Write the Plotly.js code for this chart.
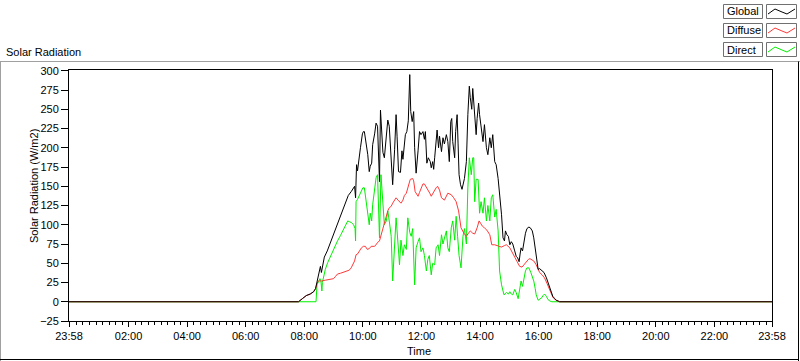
<!DOCTYPE html>
<html>
<head>
<meta charset="utf-8">
<script src="https://cdn.plot.ly/plotly-3.0.1.min.js"></script>
<style>
html,body{margin:0;padding:0;background:#fff;}
#chart{width:800px;height:361px;}
</style>
</head>
<body>
<div id="chart"></div>
<script>
// ---- Data (time in minutes after midnight, values in W/m2) ----
const seriesNames = ["Global", "Diffuse", "Direct"];
const seriesColors = ["#000000", "#ff3838", "#00f000"];

const globalTime = [-2,468,476,484,492,499,503,507,511,513,515,517,521,527,533,540,546,552,558,564,570,576,583,585,587,589,593,595,599,601,603,606,610,613,615,618,620,624,627,630,634,636,639,641,644,648,651,654,658,661,665,668,670,673,677,680,682,687,690,693,696,698,701,704,706,709,713,716,719,723,726,728,731,734,738,740,743,745,747,750,752,755,757,761,764,767,771,774,777,780,782,784,788,790,793,795,797,800,803,808,812,815,818,820,823,825,827,830,832,834,837,839,842,846,849,853,856,860,863,866,870,873,877,880,884,887,890,892,895,898,901,904,907,911,914,917,920,922,924,927,929,933,936,940,943,947,950,953,955,959,962,965,968,971,976,979,983,986,989,993,996,1000,1003,1438];
const globalValue = [0,0,4,8,10,13,17,28,40,46,38,45,58,66,76,88,100,110,120,128,138,143,150,135,178,170,195,200,218,221,221,210,191,169,176,180,204,218,232,228,156,249,218,194,187,214,236,228,185,152,198,243,215,169,168,196,185,217,221,235,295,247,234,247,200,167,196,221,217,221,211,221,180,187,182,174,182,172,187,213,223,200,215,195,213,205,217,208,182,234,238,208,187,221,243,205,165,152,146,160,182,243,280,265,250,277,262,238,217,238,258,243,230,208,230,200,191,213,200,217,182,178,160,141,113,83,79,92,87,85,74,78,75,66,59,57,52,62,70,66,75,89,95,97,96,92,83,70,57,42,43,41,39,38,31,25,20,13,7,4,2,1,0,0];

const diffuseTime = [-2,468,476,484,492,499,503,506,509,515,523,531,540,544,548,554,560,566,572,576,579,583,586,589,593,597,601,605,609,613,617,624,628,630,634,638,641,644,648,651,654,658,661,665,668,672,675,678,682,685,689,693,697,702,704,707,713,716,719,723,726,733,737,740,745,750,753,757,761,764,767,774,777,781,786,791,796,798,801,807,812,815,820,825,829,834,838,841,845,849,854,860,864,870,876,884,890,894,901,906,911,916,921,926,930,935,939,942,946,950,955,959,962,967,972,977,983,986,989,995,1003,1438];
const diffuseValue = [0,0,4,8,10,13,17,24,27,27,28,29,30,33,36,37,38,40,41,44,48,53,61,62,66,70,72,72,68,69,72,72,75,77,79,88,96,102,113,118,122,124,128,132,135,132,130,128,132,138,141,150,159,160,157,143,137,142,148,153,153,146,141,137,143,148,150,145,135,133,132,141,140,139,135,130,118,111,96,89,85,88,92,89,88,96,105,102,98,96,93,87,74,74,73,71,73,74,70,63,58,52,46,45,48,53,55,56,55,53,48,41,38,35,31,24,16,10,6,2,0,0];

const directTime = [-2,504,506,509,512,514,516,517,520,523,528,533,538,544,548,554,559,564,569,572,576,581,584,585,586,589,593,596,600,603,606,610,613,615,618,620,624,627,630,634,637,641,644,648,651,654,658,661,665,668,672,675,678,682,685,689,692,696,699,702,706,709,713,716,719,723,726,730,733,736,740,743,747,750,754,757,761,764,766,771,774,777,781,784,788,791,794,797,801,805,808,812,815,818,822,825,827,829,832,836,839,842,846,849,853,856,860,863,866,870,873,877,880,884,889,894,898,901,904,907,911,914,918,921,924,927,930,933,936,940,944,947,950,953,955,959,962,966,969,972,976,979,983,987,1438];
const directValue = [0,0,22,27,30,27,14,25,35,42,51,58,66,73,79,86,92,98,105,104,103,100,95,79,130,133,139,143,148,148,135,113,100,115,105,126,150,161,165,83,165,125,100,105,118,105,85,27,85,109,75,48,80,60,74,68,109,90,85,95,22,70,78,83,65,70,60,40,55,60,35,50,48,70,74,60,87,75,80,92,70,65,96,105,80,111,85,60,44,85,95,75,148,187,165,187,187,130,159,159,115,130,115,135,105,125,105,135,139,110,120,92,40,22,9,12,10,13,10,9,16,12,4,14,27,20,33,40,44,44,38,33,27,17,9,2,3,5,8,10,7,3,1,0,0];

const xTickMinutes = [-2,120,240,360,480,600,720,840,960,1080,1200,1320,1438];
const xTickLabels = ["23:58","02:00","04:00","06:00","08:00","10:00","12:00","14:00","16:00","18:00","20:00","22:00","23:58"];

// ---- Geometry helpers (page pixels -> paper coords) ----
const W = 800, H = 361;
const M = {l:69, r:28, t:70, b:40};
const PW = W - M.l - M.r, PH = H - M.t - M.b;
const px = x => (x - M.l) / PW;
const py = y => (H - M.b - y) / PH;

const FONT = "Liberation Sans, Arial, sans-serif";

const toHours = arr => arr.map(m => m / 60);
const times = [globalTime, diffuseTime, directTime];
const vals = [globalValue, diffuseValue, directValue];
// draw order: Direct, Diffuse, Global (global on top)
const traces = [2,1,0].map(i => ({
  type: "scatter", mode: "lines",
  name: seriesNames[i],
  x: toHours(times[i]), y: vals[i],
  line: {color: seriesColors[i], width: 1},
  showlegend: false, hoverinfo: "skip"
}));

const shapes = [];
const annotations = [];
const line = (x0,y0,x1,y1,color) => shapes.push({type:"line", xref:"paper", yref:"paper",
  x0:px(x0), y0:py(y0), x1:px(x1), y1:py(y1), line:{color:color, width:1}});

// outer panel frame
line(0, 61.5, 800, 61.5, "#a0a0a0");
line(0.5, 61.5, 0.5, 361, "#a0a0a0");
line(798.5, 61.5, 798.5, 361, "#000000");
line(0, 359.5, 799, 359.5, "#000000");

// legend
seriesNames.forEach((n, i) => {
  const t = 4 + 19 * i;
  shapes.push({type:"rect", xref:"paper", yref:"paper",
    x0:px(723.5), x1:px(762.5), y0:py(t+0.5), y1:py(t+14.5),
    line:{color:"#707070", width:1}, fillcolor:"rgba(0,0,0,0)"});
  shapes.push({type:"rect", xref:"paper", yref:"paper",
    x0:px(766.5), x1:px(796.5), y0:py(t+0.5), y1:py(t+14.5),
    line:{color:"#707070", width:1}, fillcolor:"#ffffff"});
  const pts = [[768,t+10],[775,t+5],[782,t+8],[787,t+10],[795,t+5]];
  const d = pts.map((p,k) => (k ? "L" : "M") + px(p[0]) + "," + py(p[1])).join(" ");
  shapes.push({type:"path", xref:"paper", yref:"paper", path:d,
    line:{color:seriesColors[i], width:1}});
  annotations.push({xref:"paper", yref:"paper", x:px(724.5), y:py(t+7.5),
    xanchor:"left", yanchor:"middle", showarrow:false, text:n,
    font:{family:FONT, size:11, color:"#000"}});
});

// titles
annotations.push({xref:"paper", yref:"paper", x:px(4), y:py(52),
  xanchor:"left", yanchor:"middle", showarrow:false, text:"Solar Radiation",
  font:{family:FONT, size:11, color:"#000"}});
annotations.push({xref:"paper", yref:"paper", x:px(34), y:py(186),
  xanchor:"center", yanchor:"middle", textangle:-90, showarrow:false,
  text:"Solar Radiation (W/m2)", font:{family:FONT, size:11, color:"#000"}});
annotations.push({xref:"paper", yref:"paper", x:px(419), y:py(351),
  xanchor:"center", yanchor:"middle", showarrow:false, text:"Time",
  font:{family:FONT, size:11, color:"#000"}});

const layout = {
  width: W, height: H,
  margin: {l:M.l, r:M.r, t:M.t, b:M.b, pad:0},
  paper_bgcolor: "#ffffff", plot_bgcolor: "#ffffff",
  showlegend: false,
  font: {family: FONT, size: 11, color: "#000"},
  xaxis: {
    range: [-2/60, 1438/60], tickmode: "array",
    tickvals: xTickMinutes.map(m => m/60), ticktext: xTickLabels,
    ticks: "outside", ticklen: 5, tickwidth: 1, tickcolor: "#000",
    showgrid: false, zeroline: false, showline: true, mirror: true,
    linecolor: "#000", linewidth: 1,
    tickfont: {family: FONT, size: 11, color: "#000"},
    minor: {tick0: 0, dtick: 2/9, ticks: "outside", ticklen: 3, tickcolor: "#000", tickwidth: 1, showgrid: false}
  },
  yaxis: {
    range: [-25, 301], tick0: 0, dtick: 25,
    ticks: "outside", ticklen: 7, tickwidth: 1, tickcolor: "#000",
    showgrid: false, zeroline: false, showline: true, mirror: true,
    linecolor: "#000", linewidth: 1,
    tickfont: {family: FONT, size: 11, color: "#000"}
  },
  shapes: shapes,
  annotations: annotations
};

Plotly.newPlot("chart", traces, layout, {staticPlot: true, displayModeBar: false});
</script>
</body>
</html>
